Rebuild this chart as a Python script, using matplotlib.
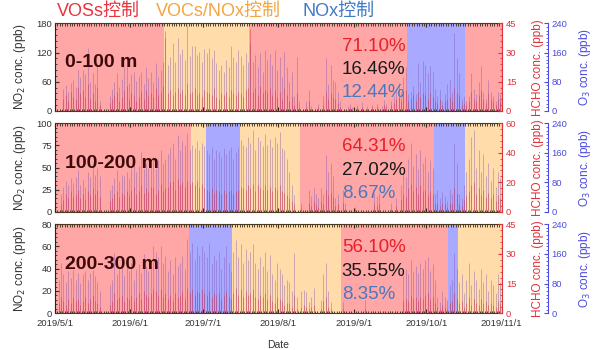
import matplotlib
matplotlib.use("Agg")
import matplotlib.pyplot as plt
import matplotlib.dates as mdates
from matplotlib.ticker import AutoMinorLocator, MultipleLocator, FuncFormatter
import pandas as pd

plt.rcParams["font.family"] = ["Liberation Sans", "Noto Sans CJK SC"]

DATES = pd.date_range("2019-05-01", "2019-10-31", freq="D")
X_START, X_END = pd.Timestamp("2019-05-01"), pd.Timestamp("2019-11-01")

REGIME_NAMES = ["VOSs控制", "VOCs/NOx控制", "NOx控制"]
REGIME_COLORS = {"VOC": "#FFA6A6", "MIX": "#FFDCA9", "NOX": "#A9A9FF"}
HEADER_COLORS = ["#E8323C", "#F2A541", "#3F7AC6"]
SHARE_COLORS = ["#E8202A", "#1A1A1A", "#4A78BE"]

PANEL_LABELS = ["0-100 m", "100-200 m", "200-300 m"]

P1_REGIMES = [("2019-05-01", "2019-06-15", "VOC"), ("2019-06-15", "2019-07-20", "MIX"),
              ("2019-07-20", "2019-09-23", "VOC"), ("2019-09-23", "2019-10-17", "NOX"),
              ("2019-10-17", "2019-11-01", "VOC")]
P2_REGIMES = [("2019-05-01", "2019-06-26", "VOC"), ("2019-06-26", "2019-07-02", "MIX"),
              ("2019-07-02", "2019-07-16", "NOX"), ("2019-07-16", "2019-08-10", "MIX"),
              ("2019-08-10", "2019-10-04", "VOC"), ("2019-10-04", "2019-10-17", "NOX"),
              ("2019-10-17", "2019-11-01", "MIX")]
P3_REGIMES = [("2019-05-01", "2019-06-25", "VOC"), ("2019-06-25", "2019-07-13", "NOX"),
              ("2019-07-13", "2019-08-27", "MIX"), ("2019-08-27", "2019-10-10", "VOC"),
              ("2019-10-10", "2019-10-14", "NOX"), ("2019-10-14", "2019-11-01", "MIX")]

P1_SHARES = [71.10, 16.46, 12.44]
P2_SHARES = [64.31, 27.02, 8.67]
P3_SHARES = [56.10, 35.55, 8.35]

# daily peak values, May 1 .. Oct 31
P1_NO2 = [0, 0, 0, 45, 53, 40, 58, 63, 50, 84,
          70, 84, 76, 129, 60, 78, 55, 98, 20, 0,
          0, 0, 30, 45, 60, 78, 50, 65, 90, 112,
          58, 75, 80, 62, 72, 80, 55, 90, 68, 80,
          60, 98, 70, 85, 100, 150, 95, 110, 139, 100,
          149, 118, 128, 105, 176, 112, 133, 133, 115, 122,
          100, 128, 120, 130, 108, 125, 98, 85, 94, 80,
          105, 90, 133, 110, 100, 125, 112, 95, 120, 100,
          140, 100, 115, 90, 120, 80, 126, 105, 118, 95,
          126, 85, 110, 70, 122, 90, 60, 80, 30, 110,
          20, 0, 0, 20, 43, 10, 0, 0, 15, 0,
          30, 108, 55, 94, 63, 60, 40, 20, 0, 0,
          10, 15, 8, 0, 12, 0, 18, 0, 10, 0,
          12, 0, 15, 0, 10, 22, 15, 0, 20, 30,
          45, 57, 40, 70, 90, 35, 40, 51, 35, 98,
          60, 102, 95, 78, 92, 80, 45, 30, 43, 20,
          35, 55, 63, 40, 160, 108, 78, 25, 30, 20,
          30, 78, 45, 35, 60, 92, 40, 25, 63, 40,
          30, 20, 40, 35]
P1_HCHO = [0, 0, 0, 6, 8, 5, 10, 7, 6, 12,
           9, 11, 7, 14, 6, 9, 5, 12, 3, 0,
           0, 0, 4, 6, 8, 10, 5, 7, 11, 13,
           6, 9, 8, 5, 7, 10, 6, 11, 8, 9,
           7, 12, 8, 10, 13, 41, 9, 11, 8, 10,
           12, 9, 11, 8, 14, 9, 10, 12, 8, 9,
           7, 11, 10, 9, 8, 12, 7, 6, 9, 8,
           10, 7, 11, 9, 8, 10, 9, 7, 11, 12,
           42, 10, 12, 8, 13, 9, 11, 10, 12, 8,
           11, 7, 10, 6, 12, 8, 5, 7, 3, 9,
           2, 0, 0, 2, 5, 1, 0, 0, 2, 0,
           3, 10, 6, 9, 7, 6, 4, 2, 0, 0,
           1, 2, 1, 0, 2, 0, 2, 0, 1, 0,
           2, 0, 2, 0, 1, 3, 2, 0, 3, 4,
           6, 7, 5, 9, 11, 5, 6, 8, 5, 10,
           7, 9, 8, 6, 9, 7, 5, 4, 6, 3,
           5, 6, 7, 5, 12, 9, 8, 3, 4, 3,
           5, 10, 6, 5, 8, 11, 6, 4, 9, 6,
           5, 3, 6, 5]

P2_NO2 = [0, 0, 20, 28, 35, 30, 38, 32, 39, 47,
          30, 36, 28, 45, 39, 55, 42, 50, 40, 0,
          0, 0, 25, 30, 38, 47, 35, 42, 40, 45,
          38, 50, 58, 45, 52, 67, 48, 55, 50, 60,
          62, 48, 58, 70, 55, 60, 65, 72, 78, 60,
          87, 70, 80, 75, 89, 70, 75, 72, 80, 70,
          78, 74, 70, 65, 73, 60, 70, 68, 62, 72,
          65, 70, 73, 60, 68, 72, 81, 75, 73, 85,
          78, 92, 70, 85, 80, 74, 88, 76, 82, 73,
          85, 78, 90, 72, 70, 60, 45, 30, 19, 0,
          0, 10, 0, 0, 25, 18, 27, 20, 15, 27,
          20, 64, 45, 55, 40, 15, 20, 0, 25, 10,
          0, 0, 0, 5, 0, 0, 0, 0, 0, 0,
          0, 21, 18, 21, 0, 0, 0, 0, 10, 0,
          15, 0, 30, 45, 39, 60, 78, 52, 65, 48,
          70, 55, 62, 45, 58, 50, 20, 25, 15, 22,
          18, 12, 25, 20, 78, 55, 20, 15, 30, 45,
          60, 85, 92, 50, 70, 45, 65, 40, 55, 35,
          50, 28, 45, 38]
P2_HCHO = [0, 0, 5, 8, 12, 9, 14, 10, 11, 15,
           9, 12, 8, 14, 11, 16, 12, 15, 10, 0,
           0, 0, 7, 9, 12, 14, 10, 13, 11, 14,
           11, 15, 17, 12, 14, 18, 13, 16, 14, 17,
           16, 12, 15, 19, 14, 16, 17, 20, 21, 15,
           22, 18, 20, 17, 21, 19, 20, 18, 21, 17,
           19, 16, 15, 14, 16, 13, 15, 14, 12, 15,
           13, 14, 15, 12, 14, 15, 17, 16, 15, 18,
           16, 19, 14, 18, 16, 15, 18, 15, 17, 14,
           17, 15, 18, 14, 13, 11, 9, 7, 5, 0,
           0, 2, 0, 0, 6, 4, 7, 5, 3, 7,
           5, 15, 11, 13, 10, 4, 5, 0, 6, 2,
           0, 0, 0, 1, 0, 0, 0, 0, 0, 0,
           0, 5, 4, 5, 0, 0, 0, 0, 2, 0,
           4, 0, 8, 12, 10, 16, 19, 14, 17, 12,
           18, 14, 15, 11, 14, 12, 5, 6, 4, 6,
           5, 3, 6, 5, 16, 12, 5, 4, 8, 11,
           14, 18, 20, 12, 16, 11, 15, 10, 13, 9,
           12, 7, 11, 9]

P3_NO2 = [0, 30, 45, 35, 28, 38, 32, 39, 30, 36,
          27, 35, 38, 30, 36, 39, 33, 28, 20, 0,
          0, 0, 25, 30, 54, 35, 40, 45, 33, 42,
          38, 45, 30, 40, 44, 36, 53, 42, 38, 48,
          60, 55, 50, 60, 45, 51, 38, 48, 35, 50,
          42, 45, 51, 40, 67, 55, 63, 48, 60, 52,
          60, 55, 50, 63, 45, 52, 48, 55, 40, 50,
          60, 45, 38, 55, 66, 50, 62, 45, 58, 48,
          55, 62, 45, 40, 50, 42, 55, 38, 52, 35,
          30, 45, 40, 35, 25, 30, 28, 20, 54, 15,
          0, 20, 21, 19, 10, 15, 23, 0, 0, 12,
          35, 45, 20, 10, 0, 0, 0, 0, 10, 0,
          0, 0, 0, 0, 0, 0, 0, 12, 0, 0,
          0, 0, 0, 0, 0, 0, 0, 0, 0, 0,
          0, 0, 0, 33, 40, 35, 48, 38, 42, 36,
          45, 40, 48, 50, 38, 44, 30, 15, 10, 20,
          15, 12, 25, 30, 54, 40, 28, 35, 18, 30,
          45, 25, 38, 30, 22, 40, 28, 35, 20, 30,
          25, 18, 35, 28]
P3_HCHO = [0, 5, 8, 6, 4, 7, 5, 8, 6, 7,
           4, 6, 8, 5, 7, 9, 6, 5, 3, 0,
           0, 0, 4, 6, 10, 7, 8, 9, 6, 8,
           7, 9, 6, 8, 10, 7, 11, 9, 8, 10,
           12, 11, 9, 12, 8, 10, 7, 9, 6, 10,
           8, 9, 11, 7, 13, 10, 12, 9, 11, 10,
           12, 10, 9, 11, 8, 10, 9, 10, 7, 9,
           11, 8, 7, 10, 13, 9, 12, 8, 11, 9,
           10, 12, 8, 7, 9, 8, 10, 7, 9, 6,
           5, 8, 7, 6, 4, 5, 5, 3, 9, 2,
           0, 3, 4, 3, 2, 3, 4, 0, 0, 2,
           6, 8, 3, 2, 0, 0, 0, 0, 2, 0,
           0, 0, 0, 0, 0, 0, 0, 2, 0, 0,
           0, 0, 0, 0, 0, 0, 0, 0, 0, 0,
           0, 0, 0, 6, 7, 6, 9, 7, 8, 6,
           8, 7, 9, 10, 7, 8, 5, 3, 2, 4,
           3, 2, 5, 6, 10, 7, 5, 6, 3, 5,
           8, 4, 7, 5, 4, 7, 5, 6, 4, 5,
           4, 3, 6, 5]

NO2_MAX = [180, 100, 80]
NO2_STEP = [60, 25, 20]
HCHO_MAX = [45, 60, 45]
HCHO_STEP = [15, 20, 15]
O3_MAX = 240
O3_STEP = 80

W, H = 611, 350
PANEL_PX = [(23.3, 111.0), (123.3, 211.7), (224.0, 313.3)]
LEFT_PX, RIGHT_PX = 55.0, 501.7

RED = "#E0323A"
BLUE = "#4B4BE0"


def date_fmt(v, pos):
    d = mdates.num2date(v)
    return f"{d.year}/{d.month}/{d.day}"


def draw_panel(fig, i, no2, hcho, regimes, shares):
    top, bot = PANEL_PX[i]
    ax = fig.add_axes([LEFT_PX / W, 1 - bot / H, (RIGHT_PX - LEFT_PX) / W, (bot - top) / H])
    ax_h = ax.twinx()
    ax_o = ax.twinx()

    for start, end, kind in regimes:
        ax.axvspan(pd.Timestamp(start), pd.Timestamp(end), color=REGIME_COLORS[kind], lw=0, zorder=0)

    mid = DATES + pd.Timedelta(hours=12)
    ax.vlines(mid, 0, no2, color="#8050B8", lw=0.6, alpha=0.45, zorder=2)
    ax_h.vlines(mid, 0, hcho, color="#D8202E", lw=0.6, alpha=0.45, zorder=2)

    ax.set_xlim(X_START, X_END)
    ax.set_ylim(0, NO2_MAX[i])
    ax_h.set_ylim(0, HCHO_MAX[i])
    ax_o.set_ylim(0, O3_MAX)

    ax.yaxis.set_major_locator(MultipleLocator(NO2_STEP[i]))
    ax.yaxis.set_minor_locator(AutoMinorLocator(5))
    ax_h.yaxis.set_major_locator(MultipleLocator(HCHO_STEP[i]))
    ax_h.yaxis.set_minor_locator(AutoMinorLocator(5))
    ax_o.yaxis.set_major_locator(MultipleLocator(O3_STEP))
    ax_o.yaxis.set_minor_locator(AutoMinorLocator(8))

    ax.xaxis.set_major_locator(mdates.MonthLocator())
    ax.xaxis.set_minor_locator(mdates.DayLocator())
    ax.xaxis.set_major_formatter(FuncFormatter(date_fmt))
    ax.tick_params(axis="x", which="both", direction="in", top=True, color="#3a2a1a",
                   labelsize=6.8, pad=4, labelcolor="#333333")
    ax.tick_params(axis="x", which="major", length=3, width=0.8)
    ax.tick_params(axis="x", which="minor", length=1.8, width=0.6)
    ax.tick_params(axis="y", which="both", direction="in", labelsize=6.8, colors="#333333", pad=2)
    ax.tick_params(axis="y", which="major", length=3)
    ax.tick_params(axis="y", which="minor", length=1.5)
    if i < 2:
        ax.tick_params(axis="x", labelbottom=False)
    else:
        ax.set_xlabel("Date", fontsize=7.5, color="#333333")
        ax.xaxis.set_label_coords(0.5, -(340 - bot) / (bot - top))

    ax_h.tick_params(axis="y", which="both", direction="in", colors=RED, labelsize=6.8, pad=3)
    ax_h.tick_params(axis="y", which="major", length=3)
    ax_h.tick_params(axis="y", which="minor", length=1.5)
    ax_o.spines["right"].set_position(("outward", 33))
    ax_o.tick_params(axis="y", which="both", direction="in", colors=BLUE, labelsize=6.8, pad=3)
    ax_o.tick_params(axis="y", which="major", length=3)
    ax_o.tick_params(axis="y", which="minor", length=1.5)

    for side in ["top", "bottom", "left"]:
        ax_h.spines[side].set_visible(False)
        ax_o.spines[side].set_visible(False)
    ax.spines["right"].set_visible(False)
    for side in ["top", "bottom"]:
        ax.spines[side].set_color("#4a3a20")
    ax.spines["left"].set_color("#222222")
    ax_h.spines["right"].set_color(RED)
    ax_o.spines["right"].set_color(BLUE)

    ax.set_ylabel("NO$_2$ conc. (ppb)", fontsize=8.5, color="#333333")
    ax.yaxis.set_label_coords((28 - LEFT_PX) / (RIGHT_PX - LEFT_PX), 0.5)
    ax_h.set_ylabel("HCHO conc. (ppb)", fontsize=8.5, color=RED)
    ax_h.yaxis.set_label_coords((532 - LEFT_PX) / (RIGHT_PX - LEFT_PX), 0.5)
    ax_o.set_ylabel("O$_3$ conc. (ppb)", fontsize=8.5, color=BLUE)
    ax_o.yaxis.set_label_coords((577 - LEFT_PX) / (RIGHT_PX - LEFT_PX), 0.5)

    ax_o.text(0.022, 0.55, PANEL_LABELS[i], transform=ax_o.transAxes, fontsize=14,
              fontweight="bold", color="#3C0A0A", ha="left", va="center")
    share_y = [0.74, 0.47, 0.21]
    for val, yy, col in zip(shares, share_y, SHARE_COLORS):
        ax_o.text(0.642, yy, f"{val:.2f}%", transform=ax_o.transAxes, fontsize=13.5,
                  color=col, ha="left", va="center")
    return ax


fig = plt.figure(figsize=(W / 100, H / 100), dpi=100)
draw_panel(fig, 0, P1_NO2, P1_HCHO, P1_REGIMES, P1_SHARES)
draw_panel(fig, 1, P2_NO2, P2_HCHO, P2_REGIMES, P2_SHARES)
draw_panel(fig, 2, P3_NO2, P3_HCHO, P3_REGIMES, P3_SHARES)

header_x = [57, 156, 302]
for name, hx, col in zip(REGIME_NAMES, header_x, HEADER_COLORS):
    fig.text(hx / W, 1 - 11 / H, name, fontsize=13, color=col, ha="left", va="center")

fig.savefig("out.png", dpi=100)
